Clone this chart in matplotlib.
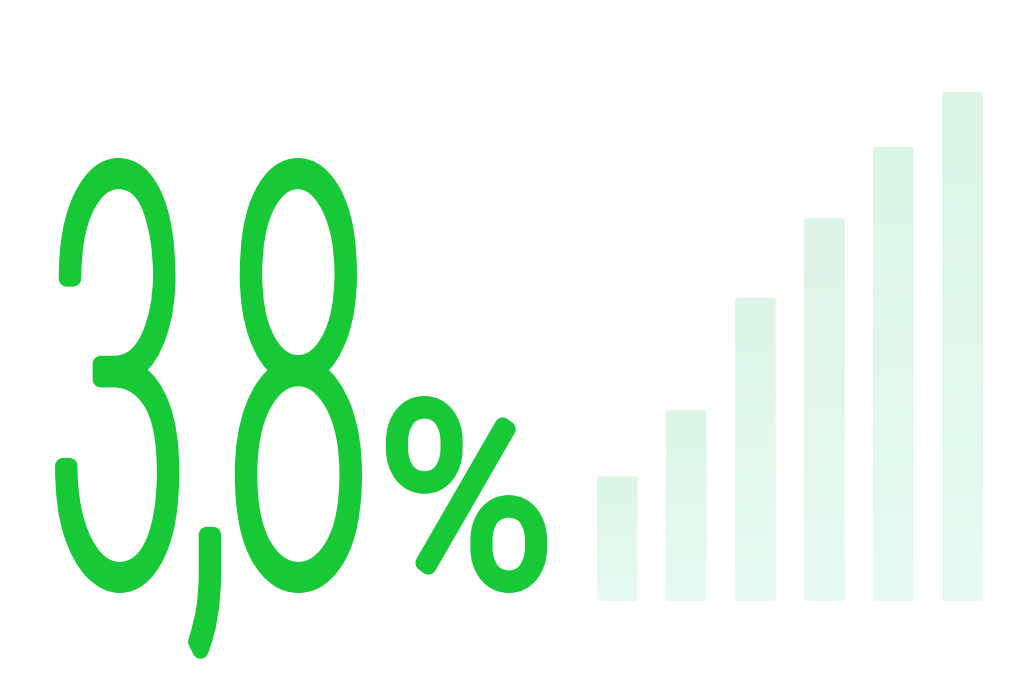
import numpy as np
import matplotlib
matplotlib.use('Agg')
import matplotlib.pyplot as plt
from matplotlib.font_manager import FontProperties
from matplotlib.textpath import TextPath
from matplotlib.patheffects import AbstractPathEffect
from matplotlib.transforms import Affine2D
from matplotlib.patches import FancyBboxPatch
from matplotlib.colors import to_rgb

# данные
big_value = "3,8"
big_unit = "%"
bar_values = [1.0, 1.53, 2.43, 3.07, 3.64, 4.08]

green = '#17c837'
bar_top = '#dcf5e4'
bar_bottom = '#e6fbf2'

W, H, DPI = 1024, 695, 100
lw = 16  # толщина обводки букв, px


class Stretch(AbstractPathEffect):
    # вытягивает глифы по вертикали и добавляет обводку
    def __init__(self, sy, lw_px, color):
        super().__init__()
        self.sy = sy
        self.lw = lw_px
        self.color = color

    def draw_path(self, renderer, gc, tpath, affine, rgbFace=None):
        gc0 = renderer.new_gc()
        gc0.copy_properties(gc)
        gc0.set_linewidth(self.lw * 72 / DPI)
        gc0.set_foreground(self.color)
        gc0.set_joinstyle('round')
        renderer.draw_path(gc0, tpath, Affine2D().scale(1, self.sy) + affine, rgbFace)
        gc0.restore()


def big_text(ax, s, box, fp, ref=None):
    # box = (left, right, top, bottom) в пикселях картинки
    L, R, T, B = box
    L += lw / 2; R -= lw / 2; T += lw / 2; B -= lw / 2
    e = TextPath((0, 0), s, size=1, prop=fp).get_extents()
    y0 = e.y0
    if ref is not None:
        y0 = TextPath((0, 0), ref, size=1, prop=fp).get_extents().y0
    F = (R - L) / (e.x1 - e.x0)
    sy = (B - T) / (F * (e.y1 - y0))
    x = L - F * e.x0
    y = B + F * sy * y0
    p = fp.copy()
    p.set_size(F * 72 / DPI)
    ax.text(x, y, s, fontproperties=p, color=green, ha='left', va='baseline',
            path_effects=[Stretch(sy, lw, green)])


fig = plt.figure(figsize=(W / DPI, H / DPI), dpi=DPI)
fig.patch.set_facecolor('white')

ax = fig.add_axes([0, 0, 1, 1])
ax.set_xlim(0, W)
ax.set_ylim(H, 0)
ax.axis('off')

fp = FontProperties(family='Roboto', weight='light')
big_text(ax, big_value, (55, 362, 158, 593), fp, ref="38")
big_text(ax, big_unit, (386, 547, 396, 593), fp)

# столбики с градиентом
bx = fig.add_axes([582.5 / W, (H - 601) / H, (997 - 582.5) / W, (601 - 92) / H])
n = len(bar_values)
x = np.arange(n)
bars = bx.bar(x, bar_values, width=0.593, color='none')
bx.axis('off')

px_x = (997 - 582.5) / n
px_y = (601 - 92) / max(bar_values)
r = 3 / px_x
c1 = np.array(to_rgb(bar_top))
c2 = np.array(to_rgb(bar_bottom))
t = np.linspace(0, 1, 256)[:, None, None]
grad = c1 + (c2 - c1) * t
for b in bars:
    x0, w, h = b.get_x(), b.get_width(), b.get_height()
    patch = FancyBboxPatch((x0, 0), w, h, boxstyle=f'round,pad=0,rounding_size={r}',
                           mutation_aspect=px_x / px_y, fc='none', ec='none')
    bx.add_patch(patch)
    im = bx.imshow(grad, extent=(x0, x0 + w, 0, h), origin='upper',
                   aspect='auto', interpolation='bilinear')
    im.set_clip_path(patch)
bx.set_xlim(-0.5, n - 0.5)
bx.set_ylim(0, max(bar_values))

fig.savefig('out.png', dpi=DPI, facecolor='white')
